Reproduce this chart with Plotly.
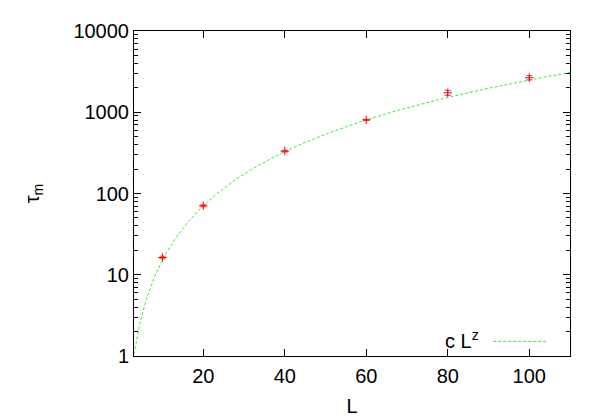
import numpy as np
import plotly.graph_objects as go

# Data
L_vals = [10, 20, 40, 60, 80, 100]
tau_vals = [16.3, 70.6, 332, 805, 1738, 2661]
tau_err = [0.6, 2.0, 8.0, 15.0, 125.0, 160.0]

# Fit parameters for c L^z
fit_c = 0.0927
fit_z = 2.215
fit_L_range = [3, 110]

x_ticks = [20, 40, 60, 80, 100]
y_ticks = [1, 10, 100, 1000, 10000]
y_ticktext = ["1", "10", "100", "1000", "10000"]
y_minor = [m * 10 ** d for d in range(0, 4) for m in range(2, 10)]

L_fit = np.linspace(fit_L_range[0], fit_L_range[1], 400)
tau_fit = fit_c * L_fit ** fit_z

fig = go.Figure()
fig.add_trace(go.Scatter(
    x=L_fit, y=tau_fit, mode="lines",
    line=dict(color="#33ee33", width=1, dash="3px,2px"),
    showlegend=False, hoverinfo="skip"))
fig.add_trace(go.Scatter(
    x=L_vals, y=tau_vals, mode="markers",
    marker=dict(symbol="cross-thin", size=6, line=dict(color="#ff0000", width=1), color="#ff0000"),
    error_y=dict(type="data", array=tau_err, visible=True, color="#ff3333", thickness=1, width=3),
    showlegend=False))

font_family = "Liberation Sans, Arial, Helvetica, sans-serif"
fs = 20
axis_common = dict(
    showline=True, linecolor="black", linewidth=1, mirror="allticks",
    ticks="inside", ticklen=7, tickcolor="black", tickwidth=1,
    showgrid=False, zeroline=False,
    tickfont=dict(family=font_family, size=fs, color="black"),
)

fig.update_xaxes(
    range=fit_L_range, tickvals=x_ticks, ticklabelstandoff=2,
    title=dict(text="L", font=dict(family=font_family, size=fs, color="black"), standoff=12),
    **axis_common)
fig.update_yaxes(
    type="log", range=[0, 4], tickvals=y_ticks, ticktext=y_ticktext,
    minor=dict(ticks="inside", ticklen=4, tickcolor="black", tickvals=y_minor, showgrid=False),
    title=dict(text="τ<sub>m</sub>", font=dict(family=font_family, size=fs, color="black"), standoff=28),
    **axis_common)

# Legend (gnuplot style: text then sample line)
fig.add_annotation(xref="paper", yref="paper", x=0.795, y=0.05, xanchor="right", yanchor="middle",
                   text="c L<sup>z</sup>", showarrow=False,
                   font=dict(family=font_family, size=fs, color="black"))
fig.add_shape(type="line", xref="paper", yref="paper", x0=0.824, x1=0.945, y0=0.045, y1=0.045,
              line=dict(color="#33ee33", width=1, dash="3px,2px"))

fig.update_layout(
    width=600, height=420,
    margin=dict(l=126, r=38, t=16, b=72),
    plot_bgcolor="white", paper_bgcolor="white",
    font=dict(family=font_family, size=fs, color="black"),
)

fig.write_html("out.html")
